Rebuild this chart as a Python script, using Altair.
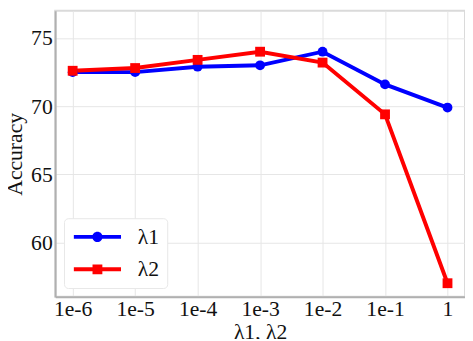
import altair as alt
import pandas as pd

x_labels = ["1e-6", "1e-5", "1e-4", "1e-3", "1e-2", "1e-1", "1"]
lam1 = [72.5, 72.5, 72.9, 73.0, 74.0, 71.6, 69.9]
lam2 = [72.6, 72.8, 73.4, 74.0, 73.2, 69.4, 57.0]
series_names = ["λ1", "λ2"]
colors = ["#0000ff", "#ff0000"]

rows = []
for name, vals in zip(series_names, [lam1, lam2]):
    for xl, v in zip(x_labels, vals):
        rows.append({"lam": xl, "acc": v, "series": name})
df = pd.DataFrame(rows)

FONT = "Liberation Serif"

# legend symbols: line + marker (custom paths)
circ_path = ("M-2.4,-0.2L-0.47,-0.2L-0.47,0.2L-2.4,0.2Z"
             "M0.47,-0.2L2.4,-0.2L2.4,0.2L0.47,0.2Z"
             "M0.52,0A0.52,0.52 0 1,1 -0.52,0A0.52,0.52 0 1,1 0.52,0Z")
sq_path = ("M-2.4,-0.2L-0.5,-0.2L-0.5,0.2L-2.4,0.2Z"
           "M0.5,-0.2L2.4,-0.2L2.4,0.2L0.5,0.2Z"
           "M-0.5,-0.5L0.5,-0.5L0.5,0.5L-0.5,0.5Z")

x_enc = alt.X("lam:N", sort=x_labels, scale=alt.Scale(type="point", padding=0.28),
              axis=alt.Axis(title="λ1, λ2", labelAngle=0, labelPadding=2, titlePadding=2,
                            labelFont=FONT, titleFont=FONT))
y_enc = alt.Y("acc:Q", scale=alt.Scale(domain=[56, 77], nice=False, zero=False),
              axis=alt.Axis(title="Accuracy", values=[60, 65, 70, 75], labelPadding=3,
                            titlePadding=4, labelFont=FONT, titleFont=FONT))
color_scale = alt.Scale(domain=series_names, range=colors)

base = alt.Chart(df)

lines = base.mark_line(strokeWidth=4).encode(
    x=x_enc, y=y_enc,
    color=alt.Color("series:N", scale=color_scale, legend=None),
    detail="series:N",
)

points = base.mark_point(filled=True, opacity=1, size=100).encode(
    x=x_enc, y=y_enc,
    color=alt.Color("series:N", scale=color_scale, legend=None),
    shape=alt.Shape("series:N", scale=alt.Scale(domain=series_names, range=["circle", "square"]),
                    legend=None),
)

legend_opts = dict(title=None, orient="bottom-left", offset=9, labelFont=FONT)
proxy = base.mark_point(filled=True, opacity=0).encode(
    x=x_enc, y=y_enc,
    color=alt.Color("series:N", scale=color_scale, legend=alt.Legend(**legend_opts)),
    shape=alt.Shape("series:N", scale=alt.Scale(domain=series_names, range=[circ_path, sq_path]),
                    legend=alt.Legend(**legend_opts)),
)

chart = alt.layer(lines, points, proxy).resolve_scale(
    shape="independent"
).resolve_legend(
    color="independent", shape="independent"
).properties(
    width=417, height=291,
    autosize=alt.AutoSizeParams(type="none"),
    padding={"left": 48, "top": 0, "right": 0, "bottom": 40},
).configure(
    font=FONT
).configure_view(
    stroke="#dadada", strokeWidth=2
).configure_axis(
    labelFont=FONT, labelFontSize=22, labelColor="#111111",
    titleFont=FONT, titleFontSize=22, titleFontWeight="normal", titleColor="#111111",
    ticks=False, grid=True, gridColor="#e6e6e6", gridWidth=1,
    domainColor="#b0b0b0", domainWidth=2,
).configure_legend(
    labelFont=FONT, labelFontSize=22, labelColor="#111111",
    symbolSize=400, symbolOpacity=1, symbolStrokeWidth=0,
    symbolOffset=15, labelOffset=30, rowPadding=11,
    padding=8, fillColor="#ffffff", strokeColor="#e8e8e8", cornerRadius=4,
)

chart.save("out.html", embed_options={"renderer": "svg", "actions": False})
